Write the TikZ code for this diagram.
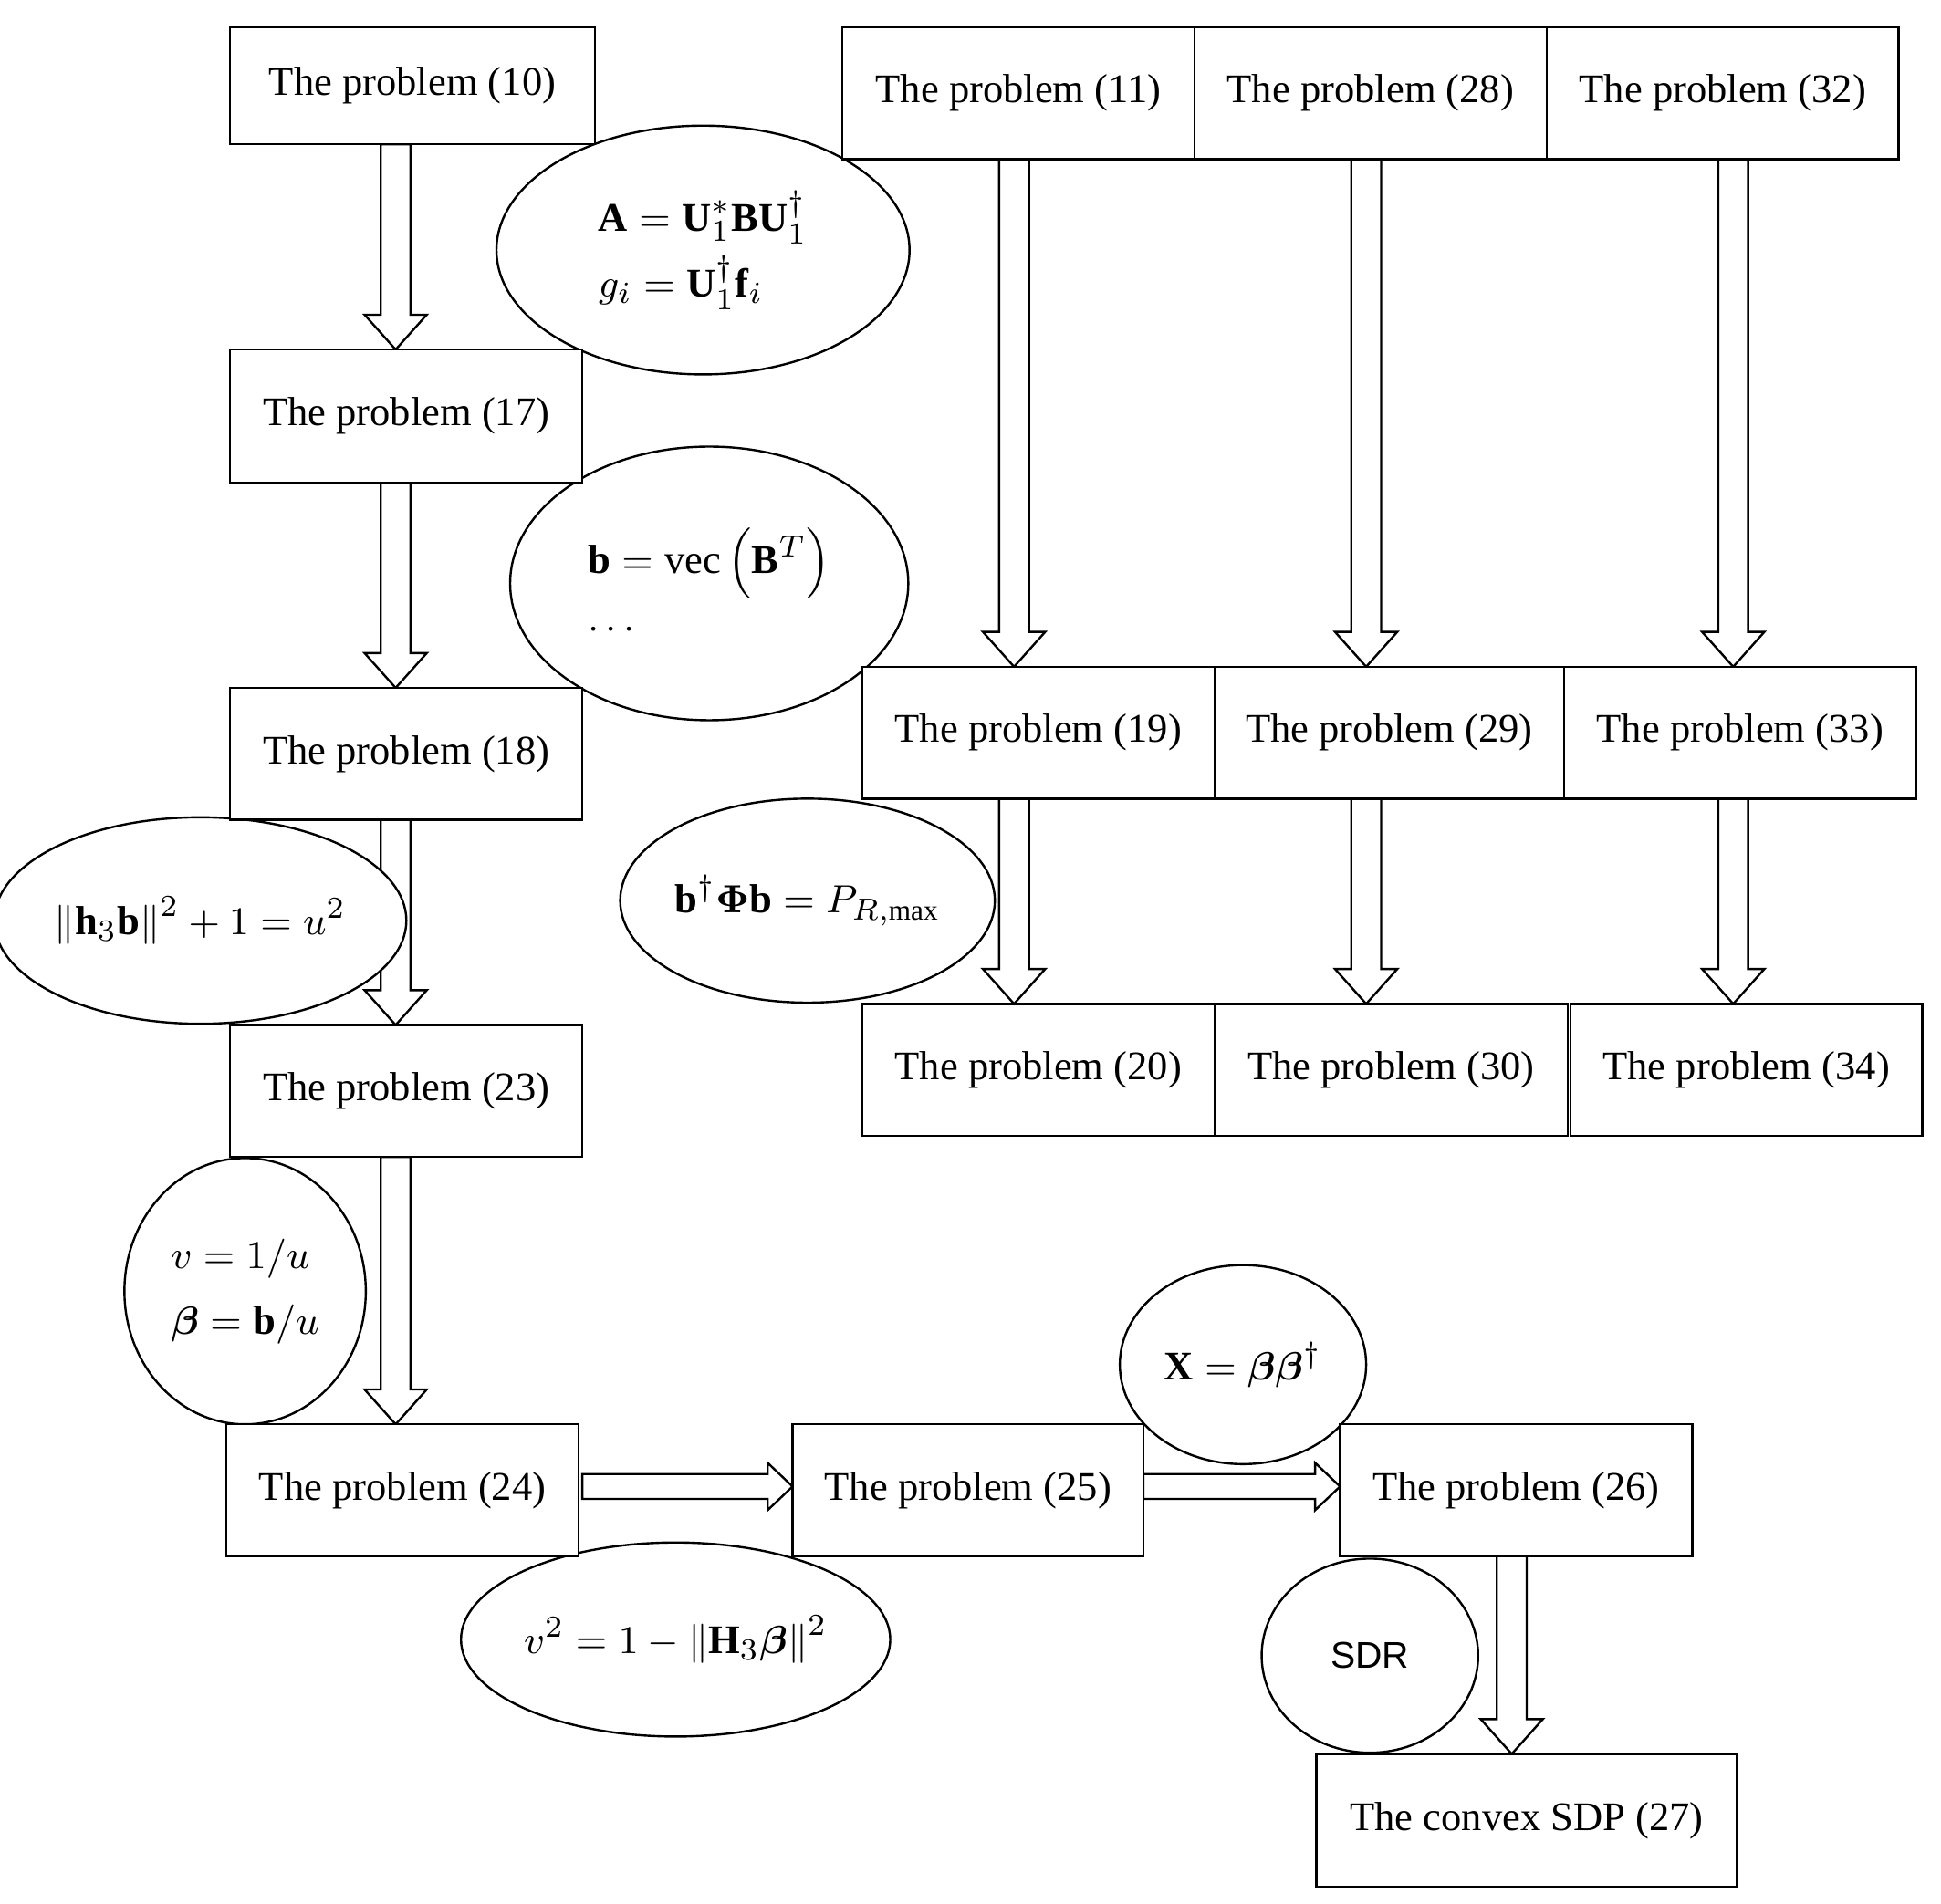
\documentclass[tikz,border=0pt]{standalone}
\usepackage{fontspec}
\setmainfont{Liberation Serif}
\newfontfamily\sff{Liberation Sans}
\usepackage{amsmath,bm}
\usetikzlibrary{shapes.geometric}
\begin{document}
\begin{tikzpicture}[x=0.1mm,y=-0.1mm,line width=0.5pt,
  ell/.style={draw,fill=white,ellipse,inner sep=0pt,font=\fontsize{9.3}{13}\selectfont,align=left},
  blk/.style={draw,fill=white,line width=0.5pt}]
\useasboundingbox (0,0) rectangle (1560,1530);
\newcommand\vblk[3]{\draw[blk] (#1-12,#2) -- (#1+12,#2) -- (#1+12,#3-28) -- (#1+25,#3-28) -- (#1,#3) -- (#1-25,#3-28) -- (#1-12,#3-28) -- cycle;}
\newcommand\hblk[3]{\draw[blk] (#2,#1-10) -- (#3-20,#1-10) -- (#3-20,#1-19) -- (#3,#1) -- (#3-20,#1+19) -- (#3-20,#1+10) -- (#2,#1+10) -- cycle;}
% arrows
\vblk{318}{116}{281}
\vblk{318}{388}{553}
\vblk{318}{659}{824}
\vblk{318}{930}{1145}
\vblk{815}{128}{536}
\vblk{1098}{128}{536}
\vblk{1393}{128}{536}
\vblk{815}{642}{807}
\vblk{1098}{642}{807}
\vblk{1393}{642}{807}
\vblk{1215}{1251}{1410}
\hblk{1195}{468}{637}
\hblk{1195}{919}{1077}
% ellipses
\node[ell,minimum width=33.2mm,minimum height=20mm] (e1) at (565,201) {$\mathbf{A}=\mathbf{U}_1^{*}\mathbf{B}\mathbf{U}_1^{\dagger}$\\[2pt]$g_i=\mathbf{U}_1^{\dagger}\mathbf{f}_i$};
\node[ell,minimum width=32mm,minimum height=22mm] (e2) at (570,469) {$\mathbf{b}=\mathrm{vec}\left(\mathbf{B}^{T}\right)$\\[2pt]$\cdots$};
\node[ell,minimum width=29.2mm,minimum height=16.6mm] (e3) at (161,740) {$\left\|\mathbf{h}_3\mathbf{b}\right\|^2+1=u^2$};
\node[ell,minimum width=28.6mm,minimum height=16.4mm] (e4) at (649,724) {$\mathbf{b}^{\dagger}\bm{\Phi}\mathbf{b}=P_{R,\max}$};
\node[ell,minimum width=19.4mm,minimum height=21.4mm] (e5) at (197,1038) {$v=1/u$\\[2pt]$\bm{\beta}=\mathbf{b}/u$};
\node[ell,minimum width=19.8mm,minimum height=16mm] (e6) at (999,1097) {$\mathbf{X}=\bm{\beta}\bm{\beta}^{\dagger}$};
\node[ell,minimum width=32mm,minimum height=15.6mm] (e7) at (543,1318) {$v^2=1-\left\|\mathbf{H}_3\bm{\beta}\right\|^2$};
\node[ell,minimum width=17.4mm,minimum height=15.6mm,font=\sff\fontsize{8.5}{10}\selectfont] (e8) at (1101,1331) {SDR};
% boxes
\newcommand\pb[6]{\draw[fill=white] (#2,#4) rectangle (#3,#5); \node[font=\fontsize{9.3}{11}\selectfont] (#1) at ({(#2+#3)/2},{(#4+#5)/2}) {#6};}
\pb{p10}{185}{478}{22}{116}{The problem (10)}
\pb{p17}{185}{468}{281}{388}{The problem (17)}
\pb{p18}{185}{468}{553}{659}{The problem (18)}
\pb{p23}{185}{468}{824}{930}{The problem (23)}
\pb{p24}{182}{465}{1145}{1251}{The problem (24)}
\pb{p25}{637}{919}{1145}{1251}{The problem (25)}
\pb{p26}{1077}{1360}{1145}{1251}{The problem (26)}
\pb{p27}{1058}{1396}{1410}{1517}{The convex SDP (27)}
\pb{p11}{677}{960}{22}{128}{The problem (11)}
\pb{p28}{960}{1243}{22}{128}{The problem (28)}
\pb{p32}{1243}{1526}{22}{128}{The problem (32)}
\pb{p19}{693}{976}{536}{642}{The problem (19)}
\pb{p29}{976}{1257}{536}{642}{The problem (29)}
\pb{p33}{1257}{1540}{536}{642}{The problem (33)}
\pb{p20}{693}{976}{807}{913}{The problem (20)}
\pb{p30}{976}{1260}{807}{913}{The problem (30)}
\pb{p34}{1262}{1545}{807}{913}{The problem (34)}
\end{tikzpicture}
\end{document}
